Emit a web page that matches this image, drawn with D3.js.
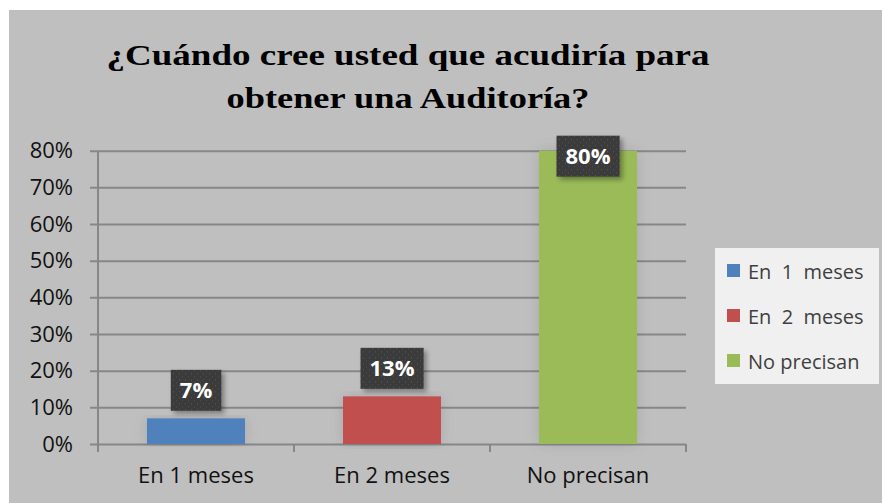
<!DOCTYPE html>
<html>
<head>
<meta charset="utf-8">
<script src="https://cdn.jsdelivr.net/npm/d3@7"></script>
<style>
  body { margin: 0; background: #fff; }
  text { font-family: "Open Sans", "Noto Sans", sans-serif; }
</style>
</head>
<body>
<div id="chart"></div>
<script>
// data
const categories = ["En 1 meses", "En 2 meses", "No precisan"];
const legendLabels = ["En  1  meses", "En  2  meses", "No precisan"];
const values = [0.07, 0.13, 0.80];
const colors = ["#4f81bd", "#c0504d", "#9bbb59"];
const yTicks = [0, 0.1, 0.2, 0.3, 0.4, 0.5, 0.6, 0.7, 0.8];
const titleLines = ["¿Cuándo cree usted que acudiría para", "obtener una Auditoría?"];

const W = 882, H = 503;
const margin = {top: 150.7, right: 196, bottom: 59, left: 98},
    width = W - margin.left - margin.right,
    height = H - margin.top - margin.bottom;

const svg = d3.select("#chart").append("svg")
    .attr("width", W)
    .attr("height", H);

const defs = svg.append("defs");
const pat = defs.append("pattern")
    .attr("id", "dots")
    .attr("width", 6).attr("height", 6)
    .attr("patternUnits", "userSpaceOnUse");
pat.append("rect").attr("width", 6).attr("height", 6).attr("fill", "#3b3b3b");
pat.append("rect").attr("x", 1).attr("y", 1).attr("width", 1).attr("height", 1).attr("fill", "#5a5a5a");
pat.append("rect").attr("x", 4).attr("y", 4).attr("width", 1).attr("height", 1).attr("fill", "#525252");

const shadow = defs.append("filter").attr("id", "shadow")
    .attr("x", "-30%").attr("y", "-30%").attr("width", "160%").attr("height", "160%");
shadow.append("feDropShadow")
    .attr("dx", 3).attr("dy", 3).attr("stdDeviation", 2.5)
    .attr("flood-color", "#000").attr("flood-opacity", 0.35);

const barShadow = defs.append("filter").attr("id", "barShadow")
    .attr("x", "-40%").attr("y", "-10%").attr("width", "180%").attr("height", "120%");
barShadow.append("feDropShadow")
    .attr("dx", 0).attr("dy", 0).attr("stdDeviation", 7)
    .attr("flood-color", "#000").attr("flood-opacity", 0.12);

// gray chart panel
svg.append("rect")
    .attr("x", 9).attr("y", 10)
    .attr("width", W - 9).attr("height", H - 10)
    .attr("fill", "#bfbfbf");

// title (the original looks squashed vertically, so scale it a bit)
const sy = 0.84;
svg.append("g")
    .attr("transform", "scale(1," + sy + ")")
    .selectAll("text")
    .data(titleLines)
    .join("text")
    .attr("x", 408)
    .attr("y", (d, i) => (65 + i * 43) / sy)
    .attr("text-anchor", "middle")
    .attr("textLength", (d, i) => i === 0 ? 603 : 363)
    .attr("lengthAdjust", "spacingAndGlyphs")
    .style("font-family", "'Liberation Serif', 'Times New Roman', serif")
    .style("font-weight", "bold")
    .style("font-size", "34px")
    .attr("fill", "#000")
    .text(d => d);

const g = svg.append("g")
    .attr("transform", "translate(" + margin.left + "," + margin.top + ")");

var x = d3.scaleBand()
    .domain(categories)
    .range([0, width])
    .paddingInner(0.5)
    .paddingOuter(0.25);

var y = d3.scaleLinear()
    .domain([0, 0.8])
    .range([height, 0]);

// Y axis with gridlines
const yAxis = g.append("g")
    .call(d3.axisLeft(y)
        .tickValues(yTicks)
        .tickFormat(d3.format(".0%"))
        .tickSizeInner(-width)
        .tickSizeOuter(0)
        .tickPadding(0));
yAxis.select(".domain").remove();
yAxis.selectAll(".tick line")
    .attr("x1", -8)
    .attr("stroke", "#878787")
    .attr("stroke-width", 2);
yAxis.selectAll(".tick text")
    .attr("x", -25)
    .attr("fill", "#111")
    .style("font-size", "22px");

// vertical axis line
g.append("line")
    .attr("x1", 0).attr("x2", 0)
    .attr("y1", 0).attr("y2", height + 8)
    .attr("stroke", "#878787")
    .attr("stroke-width", 2);

// X axis: category boundary ticks
const boundaries = d3.range(categories.length + 1).map(i => i * width / categories.length);
g.append("g").selectAll("line")
    .data(boundaries.slice(1))
    .join("line")
    .attr("x1", d => d).attr("x2", d => d)
    .attr("y1", height).attr("y2", height + 8)
    .attr("stroke", "#878787")
    .attr("stroke-width", 2);

g.append("g").selectAll("text")
    .data(categories)
    .join("text")
    .attr("x", d => x(d) + x.bandwidth() / 2)
    .attr("y", height + 39)
    .attr("text-anchor", "middle")
    .attr("fill", "#111")
    .style("font-size", "22px")
    .text(d => d);

// bars
g.append("g").selectAll("rect")
    .data(values)
    .join("rect")
    .attr("x", (d, i) => x(categories[i]))
    .attr("y", d => y(d))
    .attr("width", x.bandwidth())
    .attr("height", d => height - y(d))
    .attr("fill", (d, i) => colors[i])
    .attr("filter", "url(#barShadow)");

// data labels
const labels = g.append("g").selectAll("g")
    .data(values)
    .join("g")
    .attr("transform", (d, i) => "translate(" + (x(categories[i]) + x.bandwidth() / 2) + "," +
        Math.max(y(d) - 28, y(0.8) + 5.5) + ")");

labels.append("text")
    .attr("text-anchor", "middle")
    .attr("dy", "0.36em")
    .attr("fill", "#fff")
    .style("font-weight", "bold")
    .style("font-size", "22px")
    .text(d => d3.format(".0%")(d));

labels.each(function() {
    const grp = d3.select(this);
    const bb = grp.select("text").node().getBBox();
    grp.insert("rect", "text")
        .attr("x", bb.x - 9)
        .attr("y", -20.5)
        .attr("width", bb.width + 18)
        .attr("height", 41)
        .attr("fill", "url(#dots)")
        .attr("filter", "url(#shadow)");
});

// legend
const legend = svg.append("g");
legend.append("rect")
    .attr("x", 715).attr("y", 248)
    .attr("width", 164).attr("height", 136)
    .attr("fill", "#f0f0f0");

const items = legend.selectAll("g.item")
    .data(legendLabels)
    .join("g")
    .attr("class", "item")
    .attr("transform", (d, i) => "translate(727," + (264 + i * 45) + ")");
items.append("rect")
    .attr("width", 13).attr("height", 13)
    .attr("fill", (d, i) => colors[i]);
items.append("text")
    .attr("x", 21)
    .attr("y", 15)
    .attr("fill", "#3f3f3f")
    .style("font-size", "20px")
    .style("white-space", "pre")
    .attr("xml:space", "preserve")
    .text(d => d);
</script>
</body>
</html>
